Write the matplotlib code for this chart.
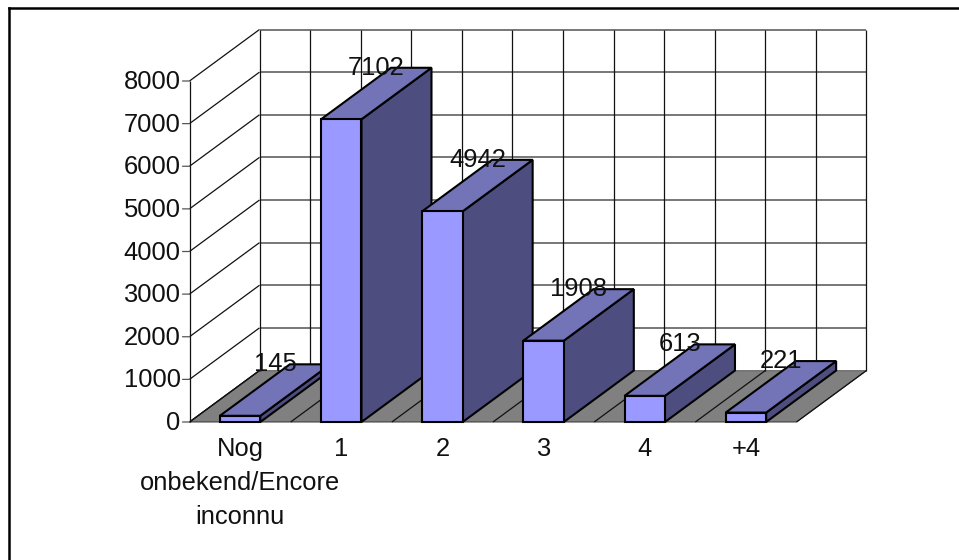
import matplotlib
matplotlib.use("Agg")
import matplotlib.pyplot as plt
from matplotlib.patches import Polygon

categories = ["Nog\nonbekend/Encore\ninconnu", "1", "2", "3", "4", "+4"]
values = [145, 7102, 4942, 1908, 613, 221]
yticks = [0, 1000, 2000, 3000, 4000, 5000, 6000, 7000, 8000]

W, H = 959, 560
plt.rcParams['font.family'] = ['Liberation Sans', 'DejaVu Sans']
fig = plt.figure(figsize=(W / 100, H / 100), dpi=100)
FX0, FX1, FY0, FY1 = 189.5, 796.5, 422.0, 81.0
ax = fig.add_axes([FX0 / W, 1 - FY0 / H, (FX1 - FX0) / W, (FY0 - FY1) / H])
ax.set_xlim(0, len(categories))
ax.set_ylim(0, 8000)
ax.axis('off')

# depth offset of the back wall, expressed in data units of the front plane
DX = 70.0 / ((FX1 - FX0) / len(categories))
DY = 51.5 / ((FY0 - FY1) / 8000)
BW = 0.40  # bar width in category units
FS = 18.4


def poly(pts, fc, ec, lw, z):
    ax.add_patch(Polygon(pts, closed=True, fc=fc, ec=ec, lw=lw, zorder=z,
                         clip_on=False, joinstyle='miter'))


def line(xs, ys, z=2, lw=0.9, c='#111111'):
    ax.plot(xs, ys, color=c, lw=lw, zorder=z, clip_on=False, solid_capstyle='butt')


n = len(categories)
# floor
poly([(0, 0), (n, 0), (n + DX, DY), (DX, DY)], '#808080', '#333333', 0.7, 1)
# back wall and gridlines
for v in yticks:
    line([DX, n + DX], [v + DY, v + DY], c='#777777', lw=1.4)
    line([0, DX], [v, v + DY])
    # tick mark
    ax.annotate('', xy=(0, v), xytext=(-7, 0), textcoords='offset pixels',
                arrowprops=dict(arrowstyle='-', lw=0.9, color='#555555', shrinkA=0, shrinkB=0),
                annotation_clip=False)
    ax.annotate(str(v), xy=(0, v), xytext=(-9, -1), textcoords='offset pixels',
                ha='right', va='center', fontsize=FS, color='#111111', annotation_clip=False)
line([0, 0], [0, 8000])
# wall verticals fall every half category, floor diagonals at category boundaries
for k in range(2 * n + 1):
    line([k / 2 + DX, k / 2 + DX], [DY, 8000 + DY])
for i in range(n + 1):
    line([i, i + DX], [0, DY])

# bars, drawn back to front from left to right
for i, v in enumerate(values):
    x0, x1 = i + 0.5 - BW / 2, i + 0.5 + BW / 2
    z = 5 + i
    poly([(x1, 0), (x1 + DX, DY), (x1 + DX, v + DY), (x1, v)], '#4d4d80', 'black', 1.5, z)
    poly([(x0, v), (x1, v), (x1 + DX, v + DY), (x0 + DX, v + DY)], '#7373b8', 'black', 1.5, z)
    poly([(x0, 0), (x1, 0), (x1, v), (x0, v)], '#9999ff', 'black', 1.5, z)

for i, v in enumerate(values):
    ax.annotate(str(v), xy=(i + 0.5 + DX / 2, v + DY), xytext=(0, 0), textcoords='offset pixels',
                ha='center', va='center', fontsize=FS, color='#111111', zorder=30,
                annotation_clip=False)

# category labels
for i, c in enumerate(categories):
    ax.annotate(c, xy=(i + 0.5, 0), xytext=(0, -15), textcoords='offset pixels',
                ha='center', va='top', fontsize=FS, color='#111111', linespacing=1.52,
                annotation_clip=False)

# outer border: top and left only reach the image
fig.add_artist(plt.Line2D([9 / W, 9 / W], [0, 1 - 8 / H], color='black', lw=1.8))
fig.add_artist(plt.Line2D([9 / W, 1], [1 - 8 / H, 1 - 8 / H], color='black', lw=1.8))

fig.savefig('out.png', dpi=100)
